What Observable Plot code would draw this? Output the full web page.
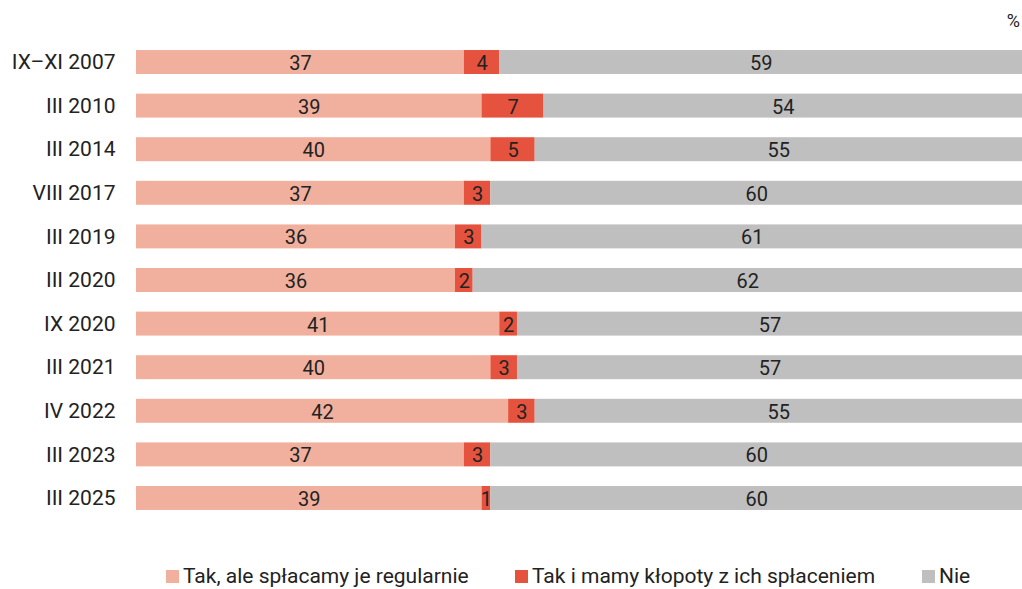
<!DOCTYPE html>
<html><head><meta charset="utf-8">
<script src="https://cdn.jsdelivr.net/npm/d3@7"></script>
<script src="https://cdn.jsdelivr.net/npm/@observablehq/plot@0.6"></script>
<style>
body{margin:0;background:#fff;font-family:Roboto,sans-serif;}
#wrap{position:relative;width:1022px;height:589px;}
#pct{position:absolute;right:2px;top:10px;font-size:18px;color:#222;}
#legend{position:absolute;top:564px;left:0;width:1022px;font-size:21px;color:#222;}
.item{position:absolute;display:flex;align-items:center;white-space:nowrap;}
.sw{width:13px;height:13px;margin-right:4px;}
</style></head>
<body><div id="wrap"><div id="chart"></div><div id="pct">%</div><div id="legend"></div></div>
<script>
const dates = ["IX–XI 2007","III 2010","III 2014","VIII 2017","III 2019","III 2020","IX 2020","III 2021","IV 2022","III 2023","III 2025"];
const tak = [37,39,40,37,36,36,41,40,42,37,39];
const klopoty = [4,7,5,3,3,2,2,3,3,3,1];
const nie = [59,54,55,60,61,62,57,57,55,60,60];
const cats = ["Tak, ale spłacamy je regularnie","Tak i mamy kłopoty z ich spłaceniem","Nie"];
const colors = ["#f1b09e","#e5533f","#bfbfbf"];

const series = [tak, klopoty, nie];
const data = [];
dates.forEach((d, i) => cats.forEach((c, j) => data.push({date: d, cat: c, value: series[j][i]})));

const chart = Plot.plot({
  width: 1022, height: 540,
  marginLeft: 136, marginRight: 0, marginTop: 30.4, marginBottom: 10.4,
  style: {fontFamily: "Roboto, sans-serif", fontSize: "20px", color: "#222"},
  x: {domain: [0, 100], axis: null},
  y: {domain: dates, padding: 0.45, round: false, label: null, axis: null},
  color: {domain: cats, range: colors},
  marks: [
    Plot.barX(data, Plot.stackX({x: "value", y: "date", z: "cat", fill: "cat", order: cats})),
    Plot.text(data, Plot.stackX({x: "value", y: "date", z: "cat", text: "value", order: cats, fill: "#222", fontSize: 20, dy: 1})),
    Plot.axisY({tickSize: 0, tickPadding: 21, fontSize: 21, label: null, fill: "#222"})
  ]
});
document.getElementById("chart").appendChild(chart);

const lx = [166, 515, 922];
const leg = document.getElementById("legend");
cats.forEach((c, i) => {
  const it = document.createElement("div");
  it.className = "item"; it.style.left = lx[i] + "px";
  it.innerHTML = `<span class="sw" style="background:${colors[i]}"></span><span>${c}</span>`;
  leg.appendChild(it);
});
</script></body></html>
